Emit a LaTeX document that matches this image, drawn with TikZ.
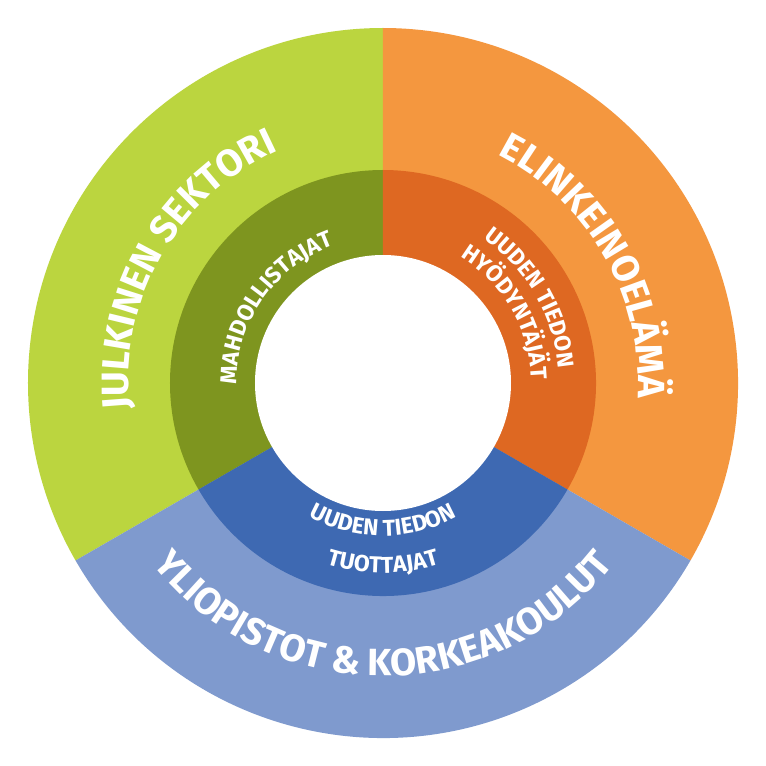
\documentclass[tikz,border=0pt]{standalone}
\usepackage{fontspec}
\setmainfont{Fira Sans}
\usetikzlibrary{decorations.text}
\definecolor{gOut}{HTML}{BBD53F}\definecolor{gIn}{HTML}{7E951F}
\definecolor{oOut}{HTML}{F4973F}\definecolor{oIn}{HTML}{DE6822}
\definecolor{bOut}{HTML}{7F9ACE}\definecolor{bIn}{HTML}{3E69B2}
\newcommand{\bigf}{\fontsize{38}{38}\selectfont\bfseries}
\newcommand{\smallf}{\fontsize{23}{23}\selectfont\bfseries}
\tikzset{
 bigtxt/.style={decorate,decoration={text along path,text align=center,text color=white,
   text={|\bigf|#1}}},
 smalltxt/.style={decorate,decoration={text along path,text align=center,text color=white,
   text={|\smallf|#1}}}
}
\begin{document}
\begin{tikzpicture}
\useasboundingbox (-383pt,-383pt) rectangle (383pt,383pt);
\fill[white] (-383pt,-383pt) rectangle (383pt,383pt);
\fill[gOut] (0,0) -- (90:355pt) arc[start angle=90,end angle=210,radius=355pt] -- cycle;
\fill[oOut] (0,0) -- (-30:355pt) arc[start angle=-30,end angle=90,radius=355pt] -- cycle;
\fill[bOut] (0,0) -- (210:355pt) arc[start angle=210,end angle=330,radius=355pt] -- cycle;
\fill[gIn] (0,0) -- (90:213pt) arc[start angle=90,end angle=210,radius=213pt] -- cycle;
\fill[oIn] (0,0) -- (-30:213pt) arc[start angle=-30,end angle=90,radius=213pt] -- cycle;
\fill[bIn] (0,0) -- (210:213pt) arc[start angle=210,end angle=330,radius=213pt] -- cycle;
\fill[white] (0,0) circle[radius=128pt];
\path[bigtxt={JULKINEN SEKTORI}] (215:255pt) arc[start angle=215,end angle=85,radius=255pt];
\path[bigtxt={ELINKEINOEL{Ä}M{Ä}}] (95:255pt) arc[start angle=95,end angle=-35,radius=255pt];
\path[bigtxt={YLIOPISTOT {\&} KORKEAKOULUT}] (190:293pt) arc[start angle=190,end angle=350,radius=293pt];
\path[smalltxt={MAHDOLLISTAJAT}] (220:146pt) arc[start angle=220,end angle=70,radius=146pt];
\path[smalltxt={UUDEN TIEDON}] (110:176pt) arc[start angle=110,end angle=-50,radius=176pt];
\path[smalltxt={HY{Ö}DYNT{Ä}J{Ä}T}] (110:148pt) arc[start angle=110,end angle=-50,radius=148pt];
\path[smalltxt={UUDEN TIEDON}] (200:153pt) arc[start angle=200,end angle=340,radius=153pt];
\path[smalltxt={TUOTTAJAT}] (200:190pt) arc[start angle=200,end angle=340,radius=190pt];
\end{tikzpicture}
\end{document}
